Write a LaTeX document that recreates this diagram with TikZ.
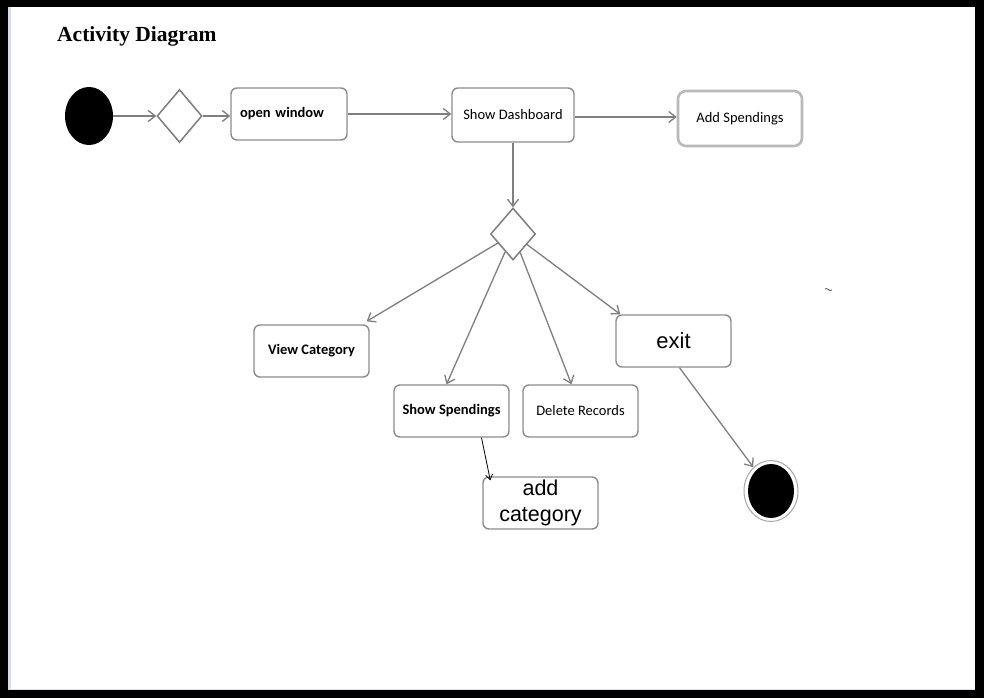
\documentclass[tikz,border=0pt]{standalone}
\usepackage{fontspec}
\setmainfont{Liberation Serif}
\newfontfamily\calfont{Carlito}
\newfontfamily\arialfont{Liberation Sans}
\usetikzlibrary{shapes.geometric,arrows.meta,calc}
\definecolor{boxgray}{HTML}{8C8C8C}
\definecolor{arrgray}{HTML}{7F7F7F}
\definecolor{framelight}{HTML}{D5DEEA}
\begin{document}
\begin{tikzpicture}[x=1pt,y=-1pt,
  box/.style={draw=boxgray, line width=1.4pt, rounded corners=6pt, minimum width=115pt,
    minimum height=52pt, inner sep=0pt, text=black, font=\calfont\fontsize{14.5}{17}\selectfont},
  boldbox/.style={box, font=\calfont\bfseries\fontsize{14.5}{17}\selectfont},
  bigbox/.style={box, font=\arialfont\fontsize{21}{25}\selectfont, align=center},
  dec/.style={diamond, draw=boxgray!90!black, line width=1.5pt, minimum width=45pt,
    minimum height=53pt, inner sep=0pt},
  arr/.style={draw=arrgray, line width=1.3pt, -{Straight Barb[length=7pt,width=11pt]}},
]
\useasboundingbox (0,0) rectangle (984,698);
% frame
\fill[black] (0,0) rectangle (984,698);
\fill[white] (8,7) rectangle (975,690);
\fill[framelight] (8,7) rectangle (11,690);
\fill[framelight] (8,688.5) rectangle (975,690);

% title
\node[anchor=base west, inner sep=0pt, font=\bfseries\fontsize{21.5}{24}\selectfont] (title) at (57,42) {Activity Diagram};

% nodes
\node[ellipse, fill=black, minimum width=48pt, minimum height=58pt, inner sep=0pt] (start) at (89,116) {};
\node[dec] (d1) at (179.5,116) {};
\node[boldbox, minimum height=52pt, text width=98pt, inner xsep=9pt, align=left] (ow) at (289,114) {open window};
\node[box, minimum width=122pt, minimum height=54pt] (sd) at (513,115) {Show Dashboard};
\node[box, draw=gray!55, line width=2.6pt, minimum width=124pt, minimum height=55pt, rounded corners=8pt] (as) at (740,118.5) {Add Spendings};
\node[dec, minimum height=52pt] (d2) at (513,234) {};
\node[boldbox] (view) at (311.5,351) {View Category};
\node[boldbox] (ss) at (451.5,411) {Show Spendings};
\node[box] (dr) at (580.5,411) {Delete Records};
\node[bigbox, font=\arialfont\fontsize{22}{25}\selectfont] (exit) at (673.5,341) {exit};
\node[bigbox, font=\arialfont\fontsize{21.5}{26}\selectfont] (ac) at (540.5,503) {add\\category};
\node[ellipse, draw=gray!70, line width=1pt, minimum width=54pt, minimum height=61pt, inner sep=0pt] (fin) at (771,491) {};
\node[ellipse, fill=black, minimum width=46pt, minimum height=54pt, inner sep=0pt] (finin) at (771,491) {};

% connectors
\draw[arr] (start) -- (d1);
\draw[arr] (d1.east) -- (d1.east -| ow.west);
\draw[arr] (ow.east) -- (ow.east -| sd.west);
\draw[arr] ($(sd.east)+(0,2)$) -- ($(sd.east -| as.west)+(0,2)$);
\draw[arr] (sd.south) -- (d2.north);
\draw[arr] (d2) -- ($(view.north east)+(-3,-3)$);
\draw[arr] (d2) -- ($(ss.north)+(-5,0)$);
\draw[arr] (d2) -- ($(dr.north)+(-9,0)$);
\draw[arr] (d2) -- ($(exit.north west)+(5,0)$);
\draw[arr] ($(exit.south)+(6,0)$) -- (fin);
\draw[black, line width=0.8pt, -{Straight Barb[length=5pt,width=7pt]}] ($(ss.south)+(30,0)$) -- ($(ac.north west)+(8,4)$);

% small stray mark
\draw[line width=0.8pt, black!70] (825,289) .. controls (827,287) and (829,292) .. (832,290);
\end{tikzpicture}
\end{document}
